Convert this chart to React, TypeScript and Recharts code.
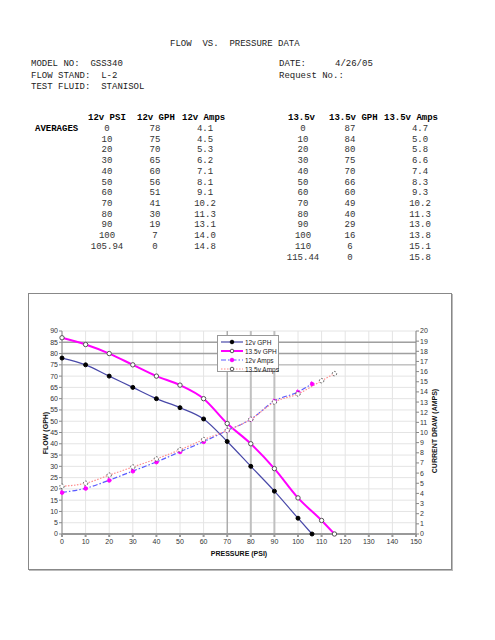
import React from "react";
import { LineChart, Line, XAxis, YAxis, CartesianGrid, ReferenceLine } from "recharts";

const psi12 = [0, 10, 20, 30, 40, 50, 60, 70, 80, 90, 100, 105.94];
const gph12 = [78, 75, 70, 65, 60, 56, 51, 41, 30, 19, 7, 0];
const amps12 = [4.1, 4.5, 5.3, 6.2, 7.1, 8.1, 9.1, 10.2, 11.3, 13.1, 14.0, 14.8];
const psi135 = [0, 10, 20, 30, 40, 50, 60, 70, 80, 90, 100, 110, 115.44];
const gph135 = [87, 84, 80, 75, 70, 66, 60, 49, 40, 29, 16, 6, 0];
const amps135 = [4.7, 5.0, 5.8, 6.6, 7.4, 8.3, 9.3, 10.2, 11.3, 13.0, 13.8, 15.1, 15.8];

const xTicks = [0, 10, 20, 30, 40, 50, 60, 70, 80, 90, 100, 110, 120, 130, 140, 150];
const leftTicks = [0, 5, 10, 15, 20, 25, 30, 35, 40, 45, 50, 55, 60, 65, 70, 75, 80, 85, 90];
const rightTicks = [0, 1, 2, 3, 4, 5, 6, 7, 8, 9, 10, 11, 12, 13, 14, 15, 16, 17, 18, 19, 20];
const refX = [70, 80, 90];
const refY = [75, 80, 85];

const data12 = psi12.map((p, i) => ({ psi: p, gph: gph12[i], amps: amps12[i] }));
const data135 = psi135.map((p, i) => ({ psi: p, gph: gph135[i], amps: amps135[i] }));

const mono = "'Liberation Mono', 'DejaVu Sans Mono', monospace";
const sans = "'Liberation Sans', Arial, sans-serif";

const abs = (left: number, top: number, extra: React.CSSProperties = {}): React.CSSProperties => ({
  position: "absolute",
  left,
  top,
  whiteSpace: "pre",
  lineHeight: "1",
  ...extra,
});

const Cell = ({ cx, cy, text, bold }: { cx: number; cy: number; text: string; bold?: boolean }) => (
  <div
    style={abs(cx - 40, cy - 5, {
      width: 80,
      textAlign: "center",
      fontFamily: mono,
      fontSize: 9,
      fontWeight: bold ? "bold" : "normal",
      color: bold ? "#000" : "#333",
    })}
  >
    {text}
  </div>
);

const rowY = (i: number) => 130 + i * 10.72;
const fmtAmp = (v: number) => v.toFixed(1);

const legendItems = [
  { label: "12v GPH", stroke: "#4848a8", dash: undefined as string | undefined, width: 1.2, dotFill: "#000", dotStroke: "#000" },
  { label: "13.5v GPH", stroke: "#ff00ff", dash: undefined, width: 2, dotFill: "#fff", dotStroke: "#555" },
  { label: "12v Amps", stroke: "#5a5aff", dash: "5 2 1.5 2", width: 1.2, dotFill: "#ff00ff", dotStroke: "#ff00ff" },
  { label: "13.5v Amps", stroke: "#ff8c8c", dash: "1.5 1.5", width: 1.2, dotFill: "#fff", dotStroke: "#555" },
];

export default function App() {
  return (
    <div style={{ position: "absolute", left: 0, top: 0, width: 495, height: 640, background: "#fff" }}>
      {/* Header */}
      <div style={abs(170, 40, { fontFamily: mono, fontSize: 9, color: "#222" })}>FLOW  VS.  PRESSURE DATA</div>
      <div style={abs(31, 60, { fontFamily: mono, fontSize: 9, color: "#222" })}>MODEL NO:  GSS340</div>
      <div style={abs(31, 72, { fontFamily: mono, fontSize: 9, color: "#222" })}>FLOW STAND:  L-2</div>
      <div style={abs(31, 83, { fontFamily: mono, fontSize: 9, color: "#222" })}>TEST FLUID:  STANISOL</div>
      <div style={abs(279, 60, { fontFamily: mono, fontSize: 9, color: "#222" })}>DATE:</div>
      <div style={abs(335, 60, { fontFamily: mono, fontSize: 9, color: "#222" })}>4/26/05</div>
      <div style={abs(279, 72, { fontFamily: mono, fontSize: 9, color: "#222" })}>Request No.:</div>

      {/* Table headers */}
      <div style={abs(88, 114, { fontFamily: mono, fontSize: 9, fontWeight: "bold" })}>12v PSI</div>
      <div style={abs(137, 114, { fontFamily: mono, fontSize: 9, fontWeight: "bold" })}>12v GPH</div>
      <div style={abs(182, 114, { fontFamily: mono, fontSize: 9, fontWeight: "bold" })}>12v Amps</div>
      <div style={abs(288, 114, { fontFamily: mono, fontSize: 9, fontWeight: "bold" })}>13.5v</div>
      <div style={abs(329, 114, { fontFamily: mono, fontSize: 9, fontWeight: "bold" })}>13.5v GPH</div>
      <div style={abs(384, 114, { fontFamily: mono, fontSize: 9, fontWeight: "bold" })}>13.5v Amps</div>
      <div style={abs(35, 125, { fontFamily: mono, fontSize: 9, fontWeight: "bold" })}>AVERAGES</div>

      {psi12.map((p, i) => (
        <React.Fragment key={"l" + i}>
          <Cell cx={107} cy={rowY(i)} text={String(p)} />
          <Cell cx={155} cy={rowY(i)} text={String(gph12[i])} />
          <Cell cx={205} cy={rowY(i)} text={fmtAmp(amps12[i])} />
        </React.Fragment>
      ))}
      {psi135.map((p, i) => (
        <React.Fragment key={"r" + i}>
          <Cell cx={303} cy={rowY(i)} text={String(p)} />
          <Cell cx={350} cy={rowY(i)} text={String(gph135[i])} />
          <Cell cx={420} cy={rowY(i)} text={fmtAmp(amps135[i])} />
        </React.Fragment>
      ))}

      {/* Chart frame */}
      <div
        style={{
          position: "absolute",
          left: 28,
          top: 293,
          width: 422,
          height: 275,
          border: "1px solid #888",
          boxShadow: "1px 1px 0 #bbb",
          background: "#fff",
        }}
      />

      <div style={{ position: "absolute", left: 29, top: 294 }}>
        <LineChart width={422} height={275} margin={{ top: 37, right: 0, bottom: 0, left: 0 }}>
          <CartesianGrid yAxisId="left" stroke="#e4e4e4" strokeWidth={1} />
          <XAxis
            type="number"
            dataKey="psi"
            domain={[0, 150]}
            ticks={xTicks}
            allowDuplicatedCategory={false}
            height={35}
            tick={{ fontSize: 7, fontFamily: sans, fill: "#333" }}
            tickSize={3}
            tickMargin={2}
            stroke="#999"
            strokeWidth={2}
            interval={0}
          />
          <YAxis
            yAxisId="left"
            orientation="left"
            domain={[0, 90]}
            ticks={leftTicks}
            width={33}
            tick={{ fontSize: 7, fontFamily: sans, fill: "#333" }}
            tickSize={3}
            tickMargin={1}
            stroke="#888"
            interval={0}
          />
          <YAxis
            yAxisId="right"
            orientation="right"
            domain={[0, 20]}
            ticks={rightTicks}
            width={35}
            tick={{ fontSize: 7, fontFamily: sans, fill: "#333" }}
            tickSize={3}
            tickMargin={1}
            stroke="#888"
            interval={0}
          />
          {refY.map((v, i) => (
            <ReferenceLine key={"ry" + v} yAxisId="left" y={v} stroke={i === 0 ? "#c4c4c4" : "#a0a0a0"} strokeWidth={1.5} />
          ))}
          {refX.map((v, i) => (
            <ReferenceLine key={"rx" + v} yAxisId="left" x={v} stroke={i === 0 ? "#909090" : "#c0c0c0"} strokeWidth={i === 0 ? 1 : 2} />
          ))}
          <Line
            yAxisId="left"
            data={data12}
            dataKey="gph"
            type="monotone"
            stroke="#4848a8"
            strokeWidth={1.2}
            dot={{ r: 2, fill: "#000", stroke: "#000", strokeWidth: 1 }}
            isAnimationActive={false}
          />
          <Line
            yAxisId="left"
            data={data135}
            dataKey="gph"
            type="monotone"
            stroke="#ff00ff"
            strokeWidth={2}
            dot={{ r: 2.2, fill: "#fff", stroke: "#555", strokeWidth: 1 }}
            isAnimationActive={false}
          />
          <Line
            yAxisId="right"
            data={data12}
            dataKey="amps"
            type="monotone"
            stroke="#5a5aff"
            strokeWidth={1.2}
            strokeDasharray="5 2 1.5 2"
            dot={{ r: 2, fill: "#ff00ff", stroke: "#ff00ff", strokeWidth: 1 }}
            isAnimationActive={false}
          />
          <Line
            yAxisId="right"
            data={data135}
            dataKey="amps"
            type="monotone"
            stroke="#ff8c8c"
            strokeWidth={1.2}
            strokeDasharray="1.5 1.5"
            dot={{ r: 2.2, fill: "#fff", stroke: "#555", strokeWidth: 1 }}
            isAnimationActive={false}
          />
        </LineChart>
      </div>

      {/* Axis titles */}
      <div
        style={abs(45, 433, {
          fontFamily: sans,
          fontSize: 7,
          fontWeight: "bold",
          color: "#111",
          transform: "translate(-50%, -50%) rotate(-90deg)",
        })}
      >
        FLOW (GPH)
      </div>
      <div
        style={abs(434, 431, {
          fontFamily: sans,
          fontSize: 7,
          fontWeight: "bold",
          color: "#111",
          transform: "translate(-50%, -50%) rotate(-90deg)",
        })}
      >
        CURRENT DRAW (AMPS)
      </div>
      <div
        style={abs(239, 553, {
          fontFamily: sans,
          fontSize: 7,
          fontWeight: "bold",
          color: "#111",
          transform: "translate(-50%, -50%)",
        })}
      >
        PRESSURE (PSI)
      </div>

      {/* Legend */}
      <div
        style={{
          position: "absolute",
          left: 217,
          top: 335,
          width: 62,
          height: 37,
          border: "1px solid #999",
          background: "#fff",
          boxSizing: "border-box",
        }}
      >
        {legendItems.map((it, i) => (
          <div key={it.label} style={{ position: "absolute", left: 2, top: 2 + i * 9.1, height: 8, display: "flex", alignItems: "center" }}>
            <svg width={24} height={8} style={{ display: "block" }}>
              <line x1={1} y1={4} x2={23} y2={4} stroke={it.stroke} strokeWidth={it.width} strokeDasharray={it.dash} />
              <circle cx={12} cy={4} r={1.8} fill={it.dotFill} stroke={it.dotStroke} strokeWidth={1} />
            </svg>
            <span style={{ fontFamily: sans, fontSize: 6.5, color: "#222", marginLeft: 1, whiteSpace: "pre" }}>{it.label}</span>
          </div>
        ))}
      </div>
    </div>
  );
}
